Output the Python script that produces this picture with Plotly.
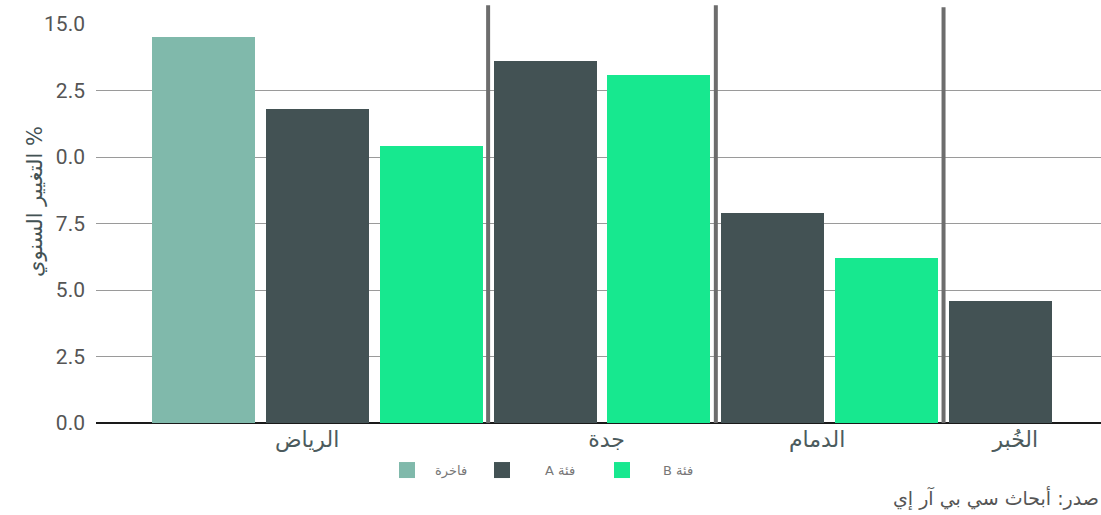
import plotly.graph_objects as go

# ---------------- data ----------------
categories = ["الرياض", "جدة", "الدمام", "الخُبر"]
series_names = ["فاخرة", "\u202bفئة A\u202c", "\u202bفئة B\u202c"]
luxury = [14.5, None, None, None]
class_a = [11.8, 13.6, 7.9, 4.6]
class_b = [10.4, 13.1, 6.2, None]
y_tick_vals = [0, 2.5, 5, 7.5, 10, 12.5, 15]
y_tick_text = ["0.0", "2.5", "5.0", "7.5", "0.0", "2.5", "15.0"]
y_title = "التغيير السنوي %"
source_text = "صدر: أبحاث سي بي آر إي"

# ---------------- styling ----------------
colors = ["#80b9ab", "#435254", "#17e88f"]
label_nudge = [-0.09, 0.04, -0.11, 0.13]
series = [luxury, class_a, class_b]

# place bars sequentially, one slot per existing value
xs = [[] for _ in series]
ys = [[] for _ in series]
groups = []
slot = 0
for ci in range(len(categories)):
    start = slot
    for si, s in enumerate(series):
        if s[ci] is not None:
            xs[si].append(slot)
            ys[si].append(s[ci])
            slot += 1
    groups.append((start, slot - 1))

fig = go.Figure()
for si, name in enumerate(series_names):
    fig.add_trace(go.Bar(x=xs[si], y=ys[si], width=0.905, name=name,
                         marker=dict(color=colors[si], line=dict(width=0)),
                         showlegend=False))

legend_ids = ["legend", "legend2", "legend3"]
for si, name in enumerate(series_names):
    fig.add_trace(go.Scatter(x=[None], y=[None], mode="markers", name=name,
                             marker=dict(symbol="square", size=16, color=colors[si]),
                             legend=legend_ids[si], showlegend=True))

tick_pos = [(a + b) / 2 + n for (a, b), n in zip(groups, label_nudge)]

# separators between groups
shapes = []
tops = [1.047, 1.047, 1.042]
for gi in range(len(groups) - 1):
    xsep = groups[gi][1] + 0.5
    shapes.append(dict(type="line", xref="x", yref="paper", x0=xsep, x1=xsep,
                       y0=0, y1=tops[gi], line=dict(color="#6d6d6d", width=4),
                       layer="above"))

legend_common = dict(orientation="h", bgcolor="rgba(0,0,0,0)", borderwidth=0,
                     font=dict(family="DejaVu Sans, sans-serif", size=13, color="#777777"),
                     yanchor="middle", y=-0.118, xanchor="left")
legend_x_px = [379, 459, 581]
legend_itemwidth = [46, 76, 72]
legends = {}
for lid, px, w in zip(legend_ids, legend_x_px, legend_itemwidth):
    d = dict(legend_common)
    d["x"] = (px - 96) / 1005
    d["itemwidth"] = w
    legends[lid] = d

fig.update_layout(
    width=1101, height=515,
    margin=dict(l=96, r=0, t=24, b=92),
    plot_bgcolor="white", paper_bgcolor="white",
    bargap=0,
    shapes=shapes,
    xaxis=dict(range=[-0.944, 7.883], tickmode="array", tickvals=tick_pos,
               ticktext=categories, showgrid=False, zeroline=False,
               showline=False, ticks="", ticklabelstandoff=1,
               tickfont=dict(family="DejaVu Sans, sans-serif", size=22, color="#4c5b5d")),
    yaxis=dict(range=[0, 15], tickmode="array", tickvals=y_tick_vals,
               ticktext=y_tick_text, showgrid=True, gridcolor="#9a9a9a", gridwidth=1,
               zeroline=True, zerolinecolor="#1a1a1a", zerolinewidth=2,
               ticks="", ticklabelstandoff=10, showline=False,
               tickfont=dict(family="Roboto, sans-serif", size=21, color="#555555")),
    annotations=[
        dict(text=y_title, xref="paper", yref="paper", x=(35 - 96) / 1005,
             y=(423 - 202) / 399, textangle=-90, showarrow=False,
             xanchor="center", yanchor="middle",
             font=dict(family="DejaVu Sans, sans-serif", size=21, color="#435254")),
        dict(text=source_text, xref="paper", yref="paper", x=1.0,
             y=(423 - 498) / 399, showarrow=False, xanchor="right", yanchor="middle",
             font=dict(family="DejaVu Sans, sans-serif", size=19, color="#555555")),
    ],
    **legends,
)

fig.write_html("out.html")
